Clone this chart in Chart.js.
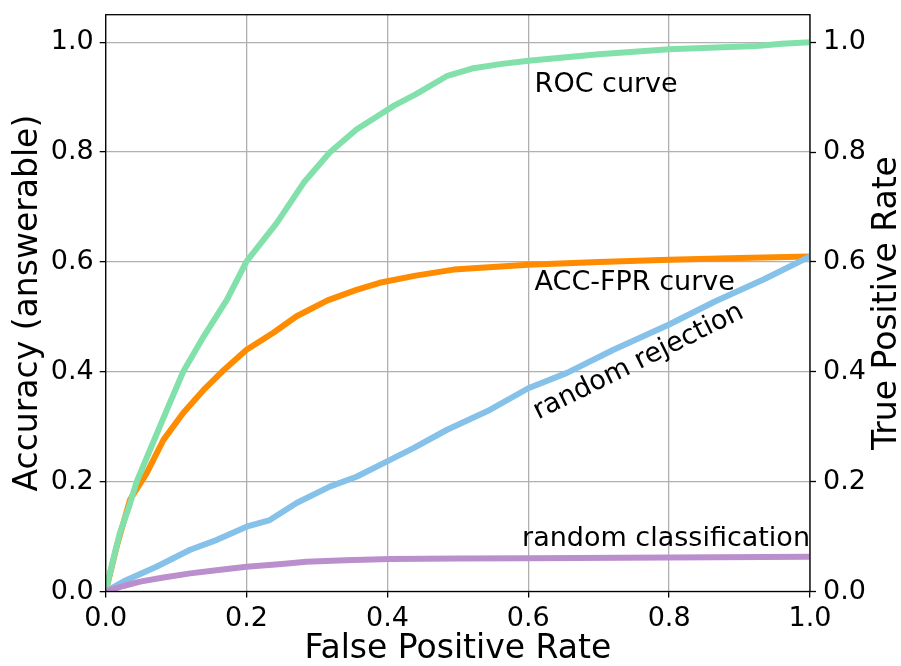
<!DOCTYPE html>
<html>
<head>
<meta charset="utf-8">
<script src="https://cdn.jsdelivr.net/npm/chart.js@4/dist/chart.umd.min.js"></script>
<style>
  html, body { margin: 0; padding: 0; background: #fff; }
  canvas { display: block; }
</style>
</head>
<body>
<canvas id="chart" width="901" height="666"></canvas>
<script>
// ROC curve (right axis, TPR vs FPR)
const rocFpr = [0, 0.01, 0.02, 0.032, 0.044, 0.063, 0.087, 0.11, 0.139, 0.172, 0.2, 0.243, 0.281, 0.318, 0.356, 0.389, 0.41, 0.44, 0.484, 0.52, 0.56, 0.6, 0.7, 0.8, 0.924, 0.96, 1.0];
const rocTpr = [0, 0.055, 0.106, 0.15, 0.2, 0.258, 0.331, 0.4, 0.464, 0.531, 0.601, 0.671, 0.744, 0.799, 0.841, 0.868, 0.885, 0.905, 0.938, 0.952, 0.96, 0.966, 0.978, 0.987, 0.993, 0.997, 1.0];

// accuracy on answerable questions vs FPR
const accFpr = [0, 0.0156, 0.0345, 0.058, 0.082, 0.11, 0.139, 0.165, 0.2, 0.238, 0.271, 0.315, 0.356, 0.389, 0.44, 0.494, 0.6, 0.7, 0.8, 0.9, 1.0];
const accVal = [0, 0.082, 0.167, 0.215, 0.276, 0.325, 0.367, 0.4, 0.44, 0.471, 0.501, 0.53, 0.549, 0.562, 0.575, 0.586, 0.595, 0.6, 0.604, 0.607, 0.61];

// random rejection baseline
const rejFpr = [0, 0.025, 0.072, 0.12, 0.158, 0.2, 0.233, 0.271, 0.318, 0.356, 0.389, 0.437, 0.484, 0.546, 0.6, 0.655, 0.721, 0.8, 0.865, 0.934, 1.0];
const rejVal = [0, 0.018, 0.045, 0.076, 0.094, 0.118, 0.13, 0.161, 0.191, 0.209, 0.23, 0.261, 0.294, 0.331, 0.37, 0.398, 0.44, 0.486, 0.528, 0.568, 0.61];

// random classification baseline
const clsFpr = [0, 0.025, 0.049, 0.08, 0.12, 0.16, 0.2, 0.25, 0.285, 0.34, 0.404, 0.5, 0.6, 0.8, 1.0];
const clsVal = [0, 0.01, 0.018, 0.025, 0.033, 0.039, 0.045, 0.05, 0.054, 0.057, 0.059, 0.06, 0.0605, 0.062, 0.0634];

const xTicks = [0, 0.2, 0.4, 0.6, 0.8, 1.0];
const yTicks = [0, 0.2, 0.4, 0.6, 0.8, 1.0];

const FONT = 'DejaVu Sans';
const toPoints = (xs, ys) => xs.map((x, i) => ({ x: x, y: ys[i] }));

function series(label, xs, ys, color, axis, order) {
  return {
    label: label,
    data: toPoints(xs, ys),
    yAxisID: axis,
    borderColor: color,
    backgroundColor: color,
    borderWidth: 6,
    pointRadius: 0,
    tension: 0,
    borderJoinStyle: 'round',
    clip: 0,
    order: order
  };
}

// curve names written next to the lines
const notes = [
  { text: 'ROC curve', x: 0.609, y: 0.91, align: 'left', angle: 0 },
  { text: 'ACC-FPR curve', x: 0.609, y: 0.549, align: 'left', angle: 0 },
  { text: 'random rejection', x: 0.614, y: 0.313, align: 'left', angle: -26.4 },
  { text: 'random classification', x: 1.0, y: 0.082, align: 'right', angle: 0 }
];

const notesPlugin = {
  id: 'notes',
  afterDatasetsDraw(chart) {
    const { ctx, scales } = chart;
    ctx.save();
    ctx.fillStyle = '#000';
    ctx.font = '27px "' + FONT + '"';
    ctx.textBaseline = 'alphabetic';
    notes.forEach(n => {
      ctx.save();
      ctx.translate(scales.x.getPixelForValue(n.x), scales.y.getPixelForValue(n.y));
      ctx.rotate(n.angle * Math.PI / 180);
      ctx.textAlign = n.align;
      ctx.fillText(n.text, 0, 0);
      ctx.restore();
    });
    ctx.restore();
  }
};

// axes box + right-hand label (reads bottom to top like the left one)
const framePlugin = {
  id: 'frame',
  afterDraw(chart) {
    const { ctx, chartArea: a } = chart;
    ctx.save();
    ctx.strokeStyle = '#000';
    ctx.lineWidth = 1.3;
    ctx.strokeRect(a.left, a.top, a.right - a.left, a.bottom - a.top);
    ctx.translate(896, (a.top + a.bottom) / 2);
    ctx.rotate(-Math.PI / 2);
    ctx.fillStyle = '#000';
    ctx.font = '33px "' + FONT + '"';
    ctx.textAlign = 'center';
    ctx.textBaseline = 'alphabetic';
    ctx.fillText('True Positive Rate', 0, 0);
    ctx.restore();
  }
};

const keepTicks = list => scale => {
  scale.ticks = list.map(v => ({ value: v }));
};

// fixed box sizes, no extra room for edge labels
const fixHeight = h => s => { s.height = h; s.paddingLeft = 0; s.paddingRight = 0; };
const fixWidth = w => s => { s.width = w; s.paddingTop = 0; s.paddingBottom = 0; };

new Chart(document.getElementById('chart'), {
  type: 'line',
  data: {
    datasets: [
      series('random classification', clsFpr, clsVal, '#BB8FCE', 'y', 0),
      series('random rejection', rejFpr, rejVal, '#85C1E9', 'y', 1),
      series('ROC curve', rocFpr, rocTpr, '#82E0AA', 'y2', 2),
      series('ACC-FPR curve', accFpr, accVal, '#FF8C00', 'y', 3)
    ]
  },
  options: {
    responsive: false,
    devicePixelRatio: 1,
    animation: false,
    layout: { padding: { top: 14.7, left: 0, right: 0, bottom: 0 } },
    plugins: { legend: { display: false }, tooltip: { enabled: false } },
    scales: {
      x: {
        type: 'linear',
        min: 0,
        max: 1,
        afterBuildTicks: keepTicks(xTicks),
        afterFit: fixHeight(74.5),
        grid: { color: '#b0b0b0', lineWidth: 1.3, tickColor: '#000', tickLength: 6, tickWidth: 1.3 },
        border: { display: false },
        ticks: {
          autoSkip: false, maxRotation: 0, padding: 5.5, color: '#000',
          font: { family: FONT, size: 27 },
          callback: v => v.toFixed(1)
        },
        title: {
          display: true, text: 'False Positive Rate', color: '#000',
          font: { family: FONT, size: 33, lineHeight: 1 }, padding: { top: 0, bottom: 0 }
        }
      },
      y: {
        type: 'linear',
        position: 'left',
        min: 0,
        max: 1.05,
        afterBuildTicks: keepTicks(yTicks),
        afterFit: fixWidth(105.7),
        grid: { color: '#b0b0b0', lineWidth: 1.3, tickColor: '#000', tickLength: 6, tickWidth: 1.3 },
        border: { display: false },
        ticks: {
          padding: 6, color: '#000',
          font: { family: FONT, size: 27 },
          callback: v => v.toFixed(1)
        },
        title: {
          display: true, text: 'Accuracy (answerable)', color: '#000',
          font: { family: FONT, size: 33, lineHeight: 1 }, padding: { top: 12, bottom: 0 }
        }
      },
      y2: {
        type: 'linear',
        position: 'right',
        min: 0,
        max: 1.05,
        afterBuildTicks: keepTicks(yTicks),
        afterFit: fixWidth(91),
        grid: { drawOnChartArea: false, tickColor: '#000', tickLength: 6, tickWidth: 1.3 },
        border: { display: false },
        ticks: {
          padding: 7, color: '#000',
          font: { family: FONT, size: 27 },
          callback: v => v.toFixed(1)
        }
      }
    }
  },
  plugins: [notesPlugin, framePlugin]
});
</script>
</body>
</html>
